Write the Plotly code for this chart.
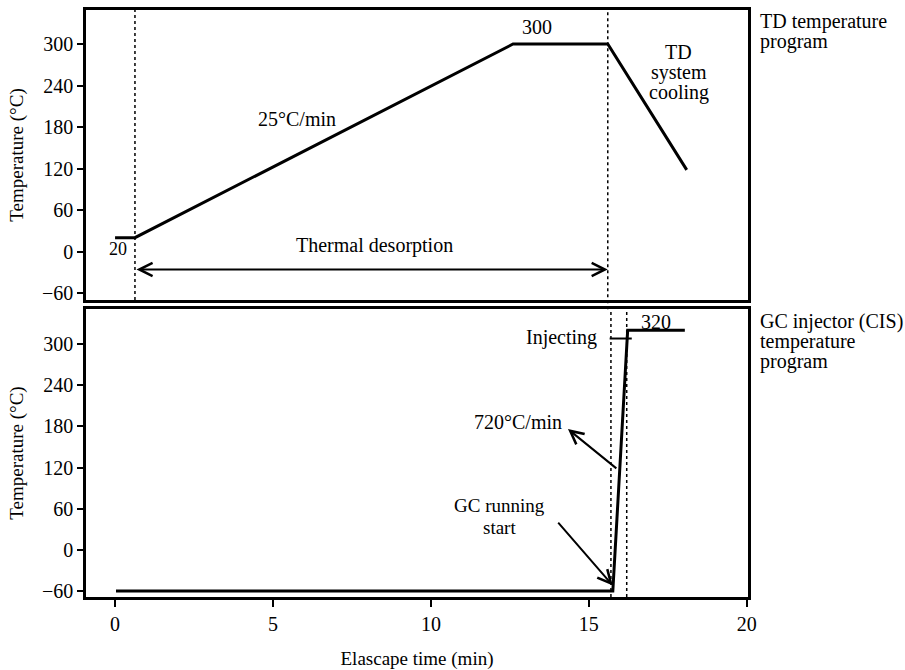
import plotly.graph_objects as go
from plotly.subplots import make_subplots

# TD temperature program (top panel)
td_time = [0.0, 0.63, 12.6, 15.6, 18.1]
td_temp = [20, 20, 300, 300, 118]

# GC injector (CIS) temperature program (bottom panel)
gc_time = [0.03, 15.76, 15.89, 15.98, 16.11, 16.23, 16.23, 18.04]
gc_temp = [-60, -60, 45, 118, 220, 310, 320, 320]

# Injecting marker
inj_time = [15.66, 16.36]
inj_temp = [308, 308]

# vertical event lines
td_events = [0.63, 15.6]
gc_events = [15.7, 16.2]

y_ticks = [-60, 0, 60, 120, 180, 240, 300]
x_ticks = [0, 5, 10, 15, 20]

FONT = "Liberation Serif"
FS = 20
TS = 19

fig = make_subplots(rows=2, cols=1, shared_xaxes=False, vertical_spacing=0.0)

fig.add_trace(go.Scatter(x=td_time, y=td_temp, mode="lines",
                         line=dict(color="black", width=3), showlegend=False), row=1, col=1)
fig.add_trace(go.Scatter(x=gc_time, y=gc_temp, mode="lines",
                         line=dict(color="black", width=3), showlegend=False), row=2, col=1)
fig.add_trace(go.Scatter(x=inj_time, y=inj_temp, mode="lines",
                         line=dict(color="black", width=2), showlegend=False), row=2, col=1)

xr = [-0.92, 20.04]
axis_common = dict(showline=True, linecolor="black", linewidth=2.5, mirror=True,
                   showgrid=False, zeroline=False, automargin=False,
                   tickfont=dict(family=FONT, size=FS, color="black"))

fig.update_layout(
    width=905, height=670,
    margin=dict(l=86, r=157, t=10, b=73),
    plot_bgcolor="white", paper_bgcolor="white",
    font=dict(family=FONT, size=FS, color="black"),
    xaxis=dict(domain=[0, 1], range=xr, showticklabels=False, ticks="", anchor="y", **axis_common),
    yaxis=dict(domain=[0.506, 1], range=[-70.1, 349.2], tickvals=y_ticks, ticks="outside",
               ticklen=6, tickwidth=2, tickcolor="black",
               title=dict(text="Temperature (°C)", font=dict(family=FONT, size=TS), standoff=14),
               anchor="x", **axis_common),
    xaxis2=dict(domain=[0, 1], range=xr, tickvals=x_ticks, ticks="outside", ticklen=7,
                tickwidth=2, tickcolor="black", anchor="y2",
                title=dict(text="Elascape time (min)", font=dict(family=FONT, size=TS), standoff=22),
                **axis_common),
    yaxis2=dict(domain=[0, 0.4906], range=[-68.7, 351], tickvals=y_ticks, ticks="outside",
                ticklen=6, tickwidth=2, tickcolor="black",
                title=dict(text="Temperature (°C)", font=dict(family=FONT, size=TS), standoff=14),
                anchor="x2", **axis_common),
)

dot = dict(color="black", width=1.5, dash="dot")
fig.add_shape(type="line", xref="x", yref="paper", x0=td_events[0], x1=td_events[0],
              y0=0.506, y1=1, line=dot)
fig.add_shape(type="line", xref="x", yref="paper", x0=td_events[1], x1=td_events[1],
              y0=0.49, y1=1, line=dot)
for xv in gc_events:
    fig.add_shape(type="line", xref="x2", yref="paper", x0=xv, x1=xv,
                  y0=0, y1=0.4906, line=dot)

ann = []
def txt(x, y, t, xref="x", yref="y", xanchor="center", size=FS):
    ann.append(dict(x=x, y=y, xref=xref, yref=yref, text=t, showarrow=False,
                    xanchor=xanchor, yanchor="middle",
                    font=dict(family=FONT, size=size, color="black")))

txt(0.1, 4, "20", size=18)
txt(5.76, 192, "25°C/min")
txt(8.23, 9, "Thermal desorption")
txt(13.35, 325, "300")
txt(17.85, 289, "TD")
txt(17.85, 259, "system")
txt(17.85, 230, "cooling")
txt(17.12, 332, "320", xref="x2", yref="y2")
txt(15.32, 310, "Injecting", xref="x2", yref="y2", xanchor="right")
txt(12.75, 187, "720°C/min", xref="x2", yref="y2")
txt(12.18, 64, "GC running", xref="x2", yref="y2", size=19)
txt(12.18, 32, "start", xref="x2", yref="y2", size=19)

for yp, t in [(0.981, "TD temperature"), (0.947, "program"),
              (0.4685, "GC injector (CIS)"), (0.436, "temperature"), (0.402, "program")]:
    txt(1.015, yp, t, xref="paper", yref="paper", xanchor="left")

# arrows
ann.append(dict(x=td_events[1], y=-26, ax=td_events[0], ay=-26, xref="x", yref="y",
                axref="x", ayref="y", text="", showarrow=True, arrowhead=5, arrowside="end+start",
                arrowsize=1.3, arrowwidth=2, arrowcolor="black"))
ann.append(dict(x=14.34, y=176, ax=15.92, ay=117, xref="x2", yref="y2",
                axref="x2", ayref="y2", text="", showarrow=True, arrowhead=5,
                arrowsize=1.3, arrowwidth=2, arrowcolor="black"))
ann.append(dict(x=15.76, y=-52, ax=13.99, ay=42, xref="x2", yref="y2",
                axref="x2", ayref="y2", text="", showarrow=True, arrowhead=5,
                arrowsize=1.3, arrowwidth=2, arrowcolor="black"))

fig.update_layout(annotations=ann)
fig.write_html("out.html")
